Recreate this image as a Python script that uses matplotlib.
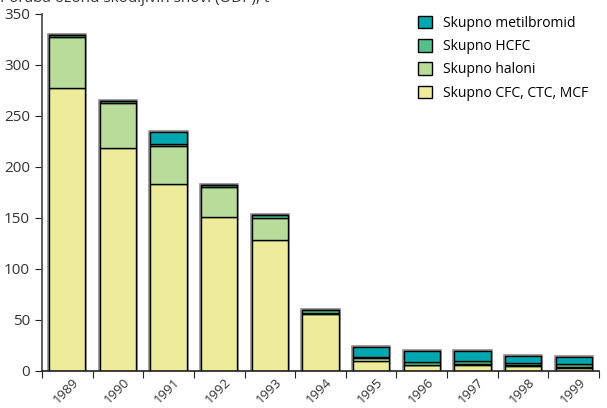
import numpy as np
import matplotlib.pyplot as plt

years = ["1989", "1990", "1991", "1992", "1993", "1994", "1995", "1996", "1997", "1998", "1999"]
cfc = [277, 219, 183, 151, 128, 56, 10, 5.5, 5.5, 4.5, 3.3]
haloni = [50, 44, 38, 29, 22, 1, 2.5, 0.5, 1, 1, 0.5]
hcfc = [2, 1.5, 2, 2, 2.5, 2.5, 1.5, 3, 3, 2.5, 3]
metil = [0, 0.5, 11, 0, 0, 0, 10, 10.5, 10, 7, 7]

series = [
    ("Skupno CFC, CTC, MCF", cfc, "#ecec9a"),
    ("Skupno haloni", haloni, "#b9dc9b"),
    ("Skupno HCFC", hcfc, "#56c08c"),
    ("Skupno metilbromid", metil, "#00a7b0"),
]

plt.rcParams['font.family'] = ['Open Sans', 'DejaVu Sans']

fig = plt.figure(figsize=(6.07, 4.08), dpi=100)
ax = fig.add_axes([0.069, 0.0907, 0.918, 0.875])

x = np.arange(len(years))
totals = np.sum([s[1] for s in series], axis=0)
# grey halo round each stacked bar
ax.bar(x, totals, 0.72, color="none", edgecolor="#8a8a8a", linewidth=2.6, zorder=1)

bottom = np.zeros(len(years))
handles = []
for name, vals, col in series:
    vals = np.array(vals, dtype=float)
    b = ax.bar(x, vals, 0.72, bottom=bottom, color=col, edgecolor="black",
               linewidth=1, label=name, zorder=2)
    handles.append(b)
    bottom += vals

ax.set_xlim(-0.5, len(years) - 0.5)
ax.set_ylim(0, 350)
ax.set_yticks(range(0, 351, 50))
ax.set_xticks(np.arange(len(years) + 1) - 0.5)
ax.set_xticklabels([])
ax.set_xticks(x + 0.1, minor=True)
ax.set_xticklabels(years, minor=True, rotation=45, ha="right", rotation_mode="anchor")
ax.tick_params(axis="x", which="minor", length=0, pad=3, labelsize=9.5, colors="#333333")
ax.tick_params(axis="x", which="major", length=5, color="#222222", direction="out")
ax.tick_params(axis="y", length=5, labelsize=11, color="#222222", labelcolor="#333333")
for s in ["top", "right"]:
    ax.spines[s].set_visible(False)
ax.spines["left"].set_color("#444444")
ax.spines["left"].set_linewidth(1.2)
ax.spines["bottom"].set_color("#222222")
ax.spines["bottom"].set_linewidth(1.2)

leg = ax.legend(handles[::-1], [s[0] for s in series][::-1], loc="upper right",
                bbox_to_anchor=(1.003, 1.03), frameon=False, fontsize=10,
                handlelength=1.0, handleheight=1.0, labelspacing=0.6)

fig.text(0.0, 1 - 2 / 408, "Poraba ozonu škodljivih snovi (ODP), t", fontsize=11,
         va="baseline", ha="left", color="#333333")

fig.savefig("out.png", dpi=100)
